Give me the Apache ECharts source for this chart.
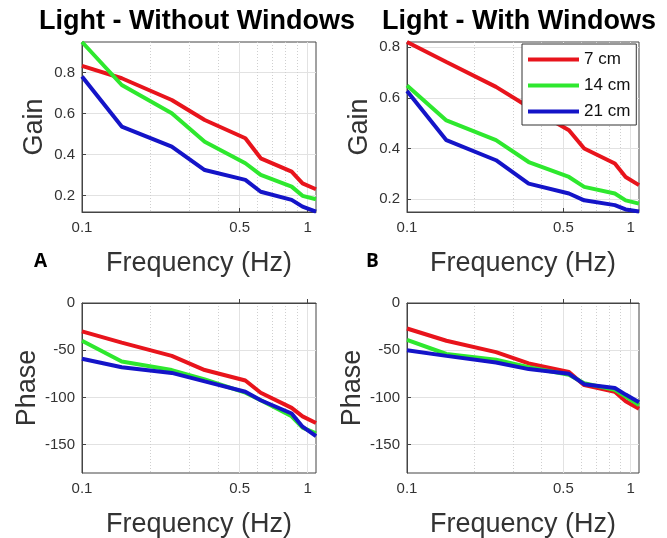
<!DOCTYPE html>
<html>
<head>
<meta charset="utf-8">
<script src="https://cdn.jsdelivr.net/npm/echarts@6/dist/echarts.min.js"></script>
<style>
  html, body { margin: 0; padding: 0; background: #fff; }
  #chart { width: 667px; height: 538px; }
</style>
</head>
<body>
<div id="chart"></div>
<script>
// frequencies (Hz) shared by every curve
const freq = [0.1, 0.15, 0.25, 0.35, 0.53, 0.62, 0.85, 0.95, 1.09]
const seriesNames = ['7 cm', '14 cm', '21 cm']
const lineColors = ['#e8141c', '#2ee82e', '#1414c8']

// A: without windows
const gainNoWin7 = [0.833, 0.773, 0.667, 0.569, 0.480, 0.382, 0.317, 0.260, 0.231]
const gainNoWin14 = [0.950, 0.740, 0.602, 0.463, 0.358, 0.301, 0.244, 0.199, 0.182]
const gainNoWin21 = [0.781, 0.537, 0.439, 0.325, 0.277, 0.219, 0.179, 0.146, 0.122]
const phaseNoWin7 = [-30, -42, -56, -71, -82, -95, -111, -120, -127]
const phaseNoWin14 = [-40, -62, -71, -81, -95, -103, -120, -132, -138]
const phaseNoWin21 = [-59, -68, -74, -83, -94, -103, -117, -131, -141]

// B: with windows
const gainWin7 = [0.820, 0.741, 0.643, 0.564, 0.472, 0.400, 0.341, 0.288, 0.256]
const gainWin14 = [0.649, 0.511, 0.433, 0.347, 0.288, 0.249, 0.223, 0.196, 0.183]
const gainWin21 = [0.627, 0.433, 0.354, 0.262, 0.223, 0.196, 0.177, 0.160, 0.152]
const phaseWin7 = [-27, -40, -52, -64, -73, -87, -94, -104, -112]
const phaseWin14 = [-39, -54, -60, -68, -76, -85, -92, -99, -108]
const phaseWin21 = [-50, -56, -63, -70, -75, -86, -90, -97, -105]

// tick labels
const xLabelTicks = [0.1, 0.5, 1]
const xMajorGrid = [0.5, 1]
const xMinorGrid = [0.2, 0.3, 0.4, 0.6, 0.7, 0.8, 0.9]
const gainTicks = [0.2, 0.4, 0.6, 0.8]
const phaseTicks = [-150, -100, -50, 0]

const panels = [
  { grid: { left: 82, top: 42, width: 234, height: 170 }, yName: 'Gain', nameGap: 34, yMin: 0.12, yMax: 0.95, yTicks: gainTicks,
    data: [gainNoWin7, gainNoWin14, gainNoWin21] },
  { grid: { left: 407, top: 42, width: 232, height: 170 }, yName: 'Gain', nameGap: 34, yMin: 0.15, yMax: 0.82, yTicks: gainTicks,
    data: [gainWin7, gainWin14, gainWin21] },
  { grid: { left: 82, top: 303, width: 234, height: 170 }, yName: 'Phase', nameGap: 39, yMin: -180, yMax: 0, yTicks: phaseTicks,
    data: [phaseNoWin7, phaseNoWin14, phaseNoWin21] },
  { grid: { left: 407, top: 303, width: 232, height: 170 }, yName: 'Phase', nameGap: 39, yMin: -180, yMax: 0, yTicks: phaseTicks,
    data: [phaseWin7, phaseWin14, phaseWin21] }
]

const font = 'Liberation Sans, Arial, sans-serif'
const axisColor = '#444'
const textColor = '#333'

const grids = []
const xAxes = []
const yAxes = []
const series = []

panels.forEach((p, i) => {
  grids.push(Object.assign({
    show: true,
    borderColor: axisColor,
    borderWidth: 1,
    containLabel: false,
    outerBoundsMode: 'none'
  }, p.grid))

  // main log axis: labels 0.1 / 0.5 / 1 and solid grid lines
  xAxes.push({
    type: 'log',
    logBase: 10,
    gridIndex: i,
    min: 0.1,
    max: 1.09,
    position: 'bottom',
    name: 'Frequency (Hz)',
    nameLocation: 'middle',
    nameGap: 38,
    nameTextStyle: { fontSize: 27, color: textColor, fontFamily: font },
    axisLine: { show: true, lineStyle: { color: axisColor, width: 1 } },
    axisTick: { show: true, inside: true, length: 4, customValues: xMajorGrid, lineStyle: { color: axisColor } },
    axisLabel: {
      customValues: xLabelTicks,
      formatter: v => String(+v.toFixed(2)),
      fontSize: 15,
      color: textColor,
      fontFamily: font,
      margin: 8
    },
    splitLine: { show: true, lineStyle: { color: '#e2e2e2', width: 1 } },
    minorTick: { show: false },
    minorSplitLine: { show: false }
  })
  // helper log axis: dotted minor grid lines only
  xAxes.push({
    type: 'log',
    logBase: 10,
    gridIndex: i,
    min: 0.1,
    max: 1.09,
    position: 'top',
    axisLine: { show: false },
    axisTick: { show: false, customValues: xMinorGrid },
    axisLabel: { show: false },
    splitLine: { show: true, lineStyle: { color: '#cfcfcf', width: 1, type: [1, 2] } }
  })

  yAxes.push({
    type: 'value',
    gridIndex: i,
    min: p.yMin,
    max: p.yMax,
    name: p.yName,
    nameLocation: 'middle',
    nameGap: p.nameGap,
    nameTextStyle: { fontSize: 27, color: textColor, fontFamily: font },
    axisLine: { show: true, lineStyle: { color: axisColor, width: 1 } },
    axisTick: { show: true, inside: true, length: 4, customValues: p.yTicks, lineStyle: { color: axisColor } },
    axisLabel: { customValues: p.yTicks, fontSize: 15, color: textColor, fontFamily: font, margin: 7 },
    splitLine: { show: true, lineStyle: { color: '#e2e2e2', width: 1 } }
  })

  p.data.forEach((vals, k) => {
    series.push({
      name: seriesNames[k],
      type: 'line',
      xAxisIndex: 2 * i,
      yAxisIndex: i,
      data: freq.map((f, j) => [f, vals[j]]),
      symbol: 'none',
      showSymbol: false,
      lineStyle: { width: 4, color: lineColors[k] },
      itemStyle: { color: lineColors[k] },
      emphasis: { disabled: true },
      z: 3 + k
    })
  })
})

const titleStyle = { fontSize: 27, fontWeight: 'bold', color: '#000', fontFamily: font }
const letterStyle = { fontSize: 19, fontWeight: 'bold', color: '#000', fontFamily: 'Open Sans, Liberation Sans, sans-serif' }

const option = {
  backgroundColor: '#fff',
  animation: false,
  title: [
    { text: 'Light - Without Windows', left: 39, top: 8, padding: 0, textStyle: titleStyle },
    { text: 'Light - With Windows', left: 382, top: 8, padding: 0, textStyle: titleStyle },
    { text: 'A', left: 34, top: 252, padding: 0, textStyle: letterStyle },
    { text: 'B', left: 366, top: 252, padding: 0, textStyle: letterStyle }
  ],
  legend: {
    data: seriesNames,
    orient: 'vertical',
    left: 522,
    top: 44,
    itemWidth: 51,
    itemHeight: 14,
    itemGap: 9,
    padding: [7, 6, 5, 4],
    backgroundColor: '#fff',
    borderColor: '#333',
    borderWidth: 1,
    borderRadius: 0,
    selectedMode: false,
    itemStyle: { color: 'transparent', borderWidth: 0, opacity: 0 },
    lineStyle: { width: 4 },
    textStyle: { fontSize: 17, color: '#111', fontFamily: font },
    z: 10
  },
  grid: grids,
  xAxis: xAxes,
  yAxis: yAxes,
  series: series
}

const chart = echarts.init(document.getElementById('chart'))
chart.setOption(option)
window.addEventListener('resize', () => chart.resize())
</script>
</body>
</html>
